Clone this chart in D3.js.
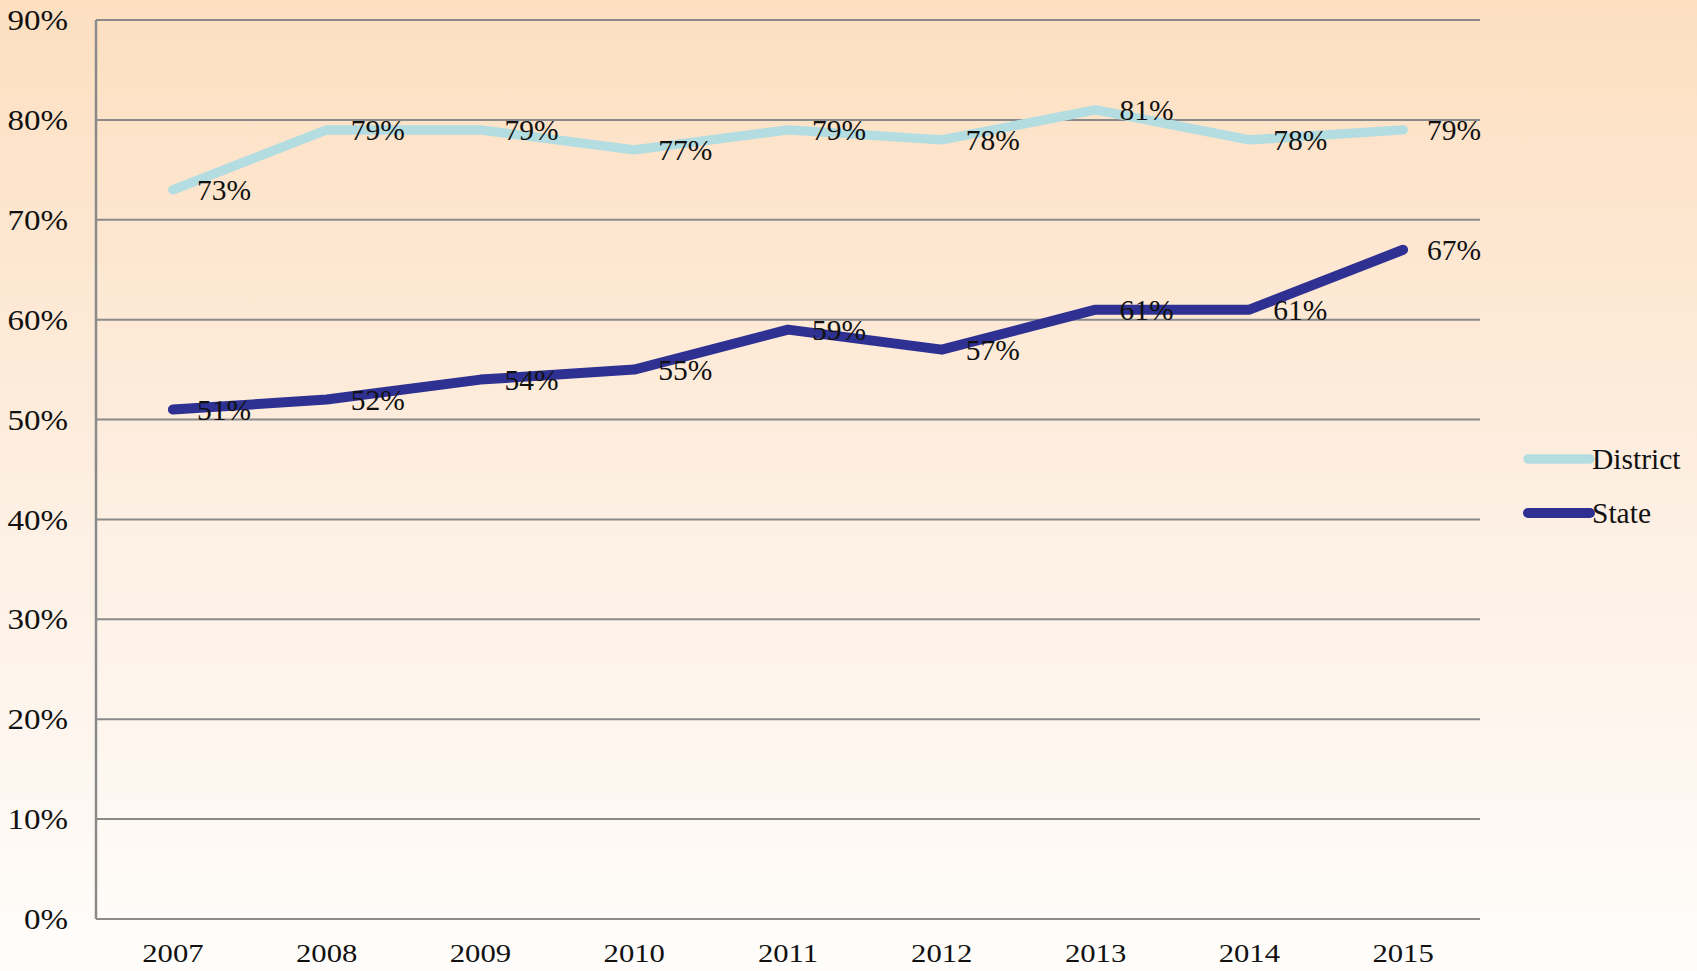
<!DOCTYPE html>
<html>
<head>
<meta charset="utf-8">
<script src="https://cdn.jsdelivr.net/npm/d3@7"></script>
<style>
  body { margin: 0; background: #fff; }
  svg text { font-family: "Liberation Serif", "Times New Roman", serif; fill: #111; }
</style>
</head>
<body>
<div class="lineChart"></div>
<script>
var years = ["2007", "2008", "2009", "2010", "2011", "2012", "2013", "2014", "2015"];
var district = [73, 79, 79, 77, 79, 78, 81, 78, 79];
var state = [51, 52, 54, 55, 59, 57, 61, 61, 67];
var yTicks = [0, 10, 20, 30, 40, 50, 60, 70, 80, 90];
var seriesNames = ["District", "State"];
var seriesColors = ["#b4dde2", "#2e3192"];

function init() {
  var w = 1697;
  var h = 971;
  var left = 96, right = 1480, top = 20, bottom = 919;

  var svg = d3.select(".lineChart")
    .append("svg")
    .attr("width", w)
    .attr("height", h);

  var defs = svg.append("defs");
  var grad = defs.append("linearGradient")
    .attr("id", "bg")
    .attr("x1", 0).attr("y1", 0)
    .attr("x2", 0).attr("y2", 1);
  grad.append("stop").attr("offset", "0%").attr("stop-color", "#fddfc0");
  grad.append("stop").attr("offset", "55%").attr("stop-color", "#fdf0e4");
  grad.append("stop").attr("offset", "100%").attr("stop-color", "#fffdfb");

  svg.append("rect")
    .attr("width", w)
    .attr("height", h)
    .attr("fill", "url(#bg)");

  var xScale = d3.scaleBand()
    .domain(years)
    .range([left, right]);

  var yScale = d3.scaleLinear()
    .domain([0, 90])
    .range([bottom, top]);

  // gridlines
  svg.append("g")
    .selectAll("line")
    .data(yTicks)
    .enter()
    .append("line")
    .attr("x1", left)
    .attr("x2", right)
    .attr("y1", function(d) { return yScale(d); })
    .attr("y2", function(d) { return yScale(d); })
    .attr("stroke", "#8a8a8a")
    .attr("stroke-width", 2);

  // left axis line
  svg.append("line")
    .attr("x1", left).attr("x2", left)
    .attr("y1", top).attr("y2", bottom)
    .attr("stroke", "#8a8a8a")
    .attr("stroke-width", 2.5);

  // y tick labels
  svg.append("g")
    .selectAll("text")
    .data(yTicks)
    .enter()
    .append("text")
    .attr("transform", function(d) {
      return "translate(68," + yScale(d) + ") scale(1.14,1)";
    })
    .attr("text-anchor", "end")
    .attr("dy", "0.35em")
    .attr("font-size", "29px")
    .text(function(d) { return d + "%"; });

  // x tick labels
  svg.append("g")
    .selectAll("text")
    .data(years)
    .enter()
    .append("text")
    .attr("transform", function(d) {
      return "translate(" + (xScale(d) + xScale.bandwidth() / 2) + ",962) scale(1.18,1)";
    })
    .attr("text-anchor", "middle")
    .attr("font-size", "26px")
    .text(function(d) { return d; });

  var line = d3.line()
    .x(function(d, i) { return xScale(years[i]) + xScale.bandwidth() / 2; })
    .y(function(d) { return yScale(d); });

  var allSeries = [district, state];
  var widths = [9.5, 10];

  allSeries.forEach(function(values, s) {
    svg.append("path")
      .datum(values)
      .attr("d", line)
      .attr("fill", "none")
      .attr("stroke", seriesColors[s])
      .attr("stroke-width", widths[s])
      .attr("stroke-linecap", "round")
      .attr("stroke-linejoin", "round");
  });

  allSeries.forEach(function(values) {
    svg.append("g")
      .selectAll("text")
      .data(values)
      .enter()
      .append("text")
      .attr("x", function(d, i) { return xScale(years[i]) + xScale.bandwidth() / 2 + 24; })
      .attr("y", function(d) { return yScale(d); })
      .attr("dy", "0.35em")
      .attr("font-size", "29.5px")
      .text(function(d) { return d + "%"; });
  });

  // legend
  var legend = svg.append("g")
    .attr("class", "legend")
    .attr("transform", "translate(1528,459)");

  var legendItem = legend.selectAll(".legend-item")
    .data(seriesNames)
    .enter().append("g")
    .attr("class", "legend-item")
    .attr("transform", function(d, i) {
      return "translate(0," + (i * 54) + ")";
    });

  legendItem.append("line")
    .attr("x1", 0).attr("x2", 62)
    .attr("y1", 0).attr("y2", 0)
    .attr("stroke", function(d, i) { return seriesColors[i]; })
    .attr("stroke-width", function(d, i) { return widths[i]; })
    .attr("stroke-linecap", "round");

  legendItem.append("text")
    .attr("x", 64)
    .attr("y", 0)
    .attr("dy", "0.35em")
    .attr("font-size", "29.5px")
    .text(function(d) { return d; });
}

window.onload = init;
</script>
</body>
</html>
